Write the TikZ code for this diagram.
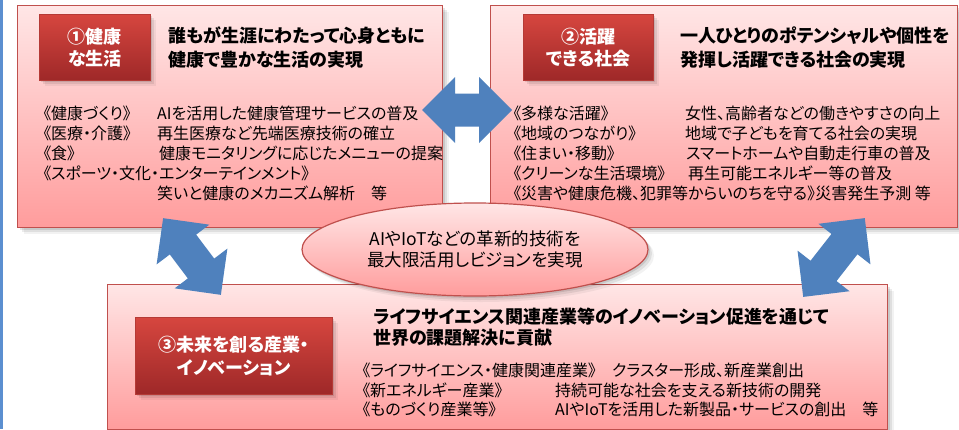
\documentclass[tikz,border=0pt]{standalone}
\usepackage{fontspec}
\setmainfont{Noto Sans CJK JP}[RawFeature=+palt]
\usetikzlibrary{shadows,shapes.geometric}
\definecolor{pinktop}{HTML}{FFE6E6}
\definecolor{pinkbot}{HTML}{FF9C9C}
\definecolor{boxline}{HTML}{C0504D}
\definecolor{labtop}{HTML}{D6463F}
\definecolor{labbot}{HTML}{9E2828}
\definecolor{labline}{HTML}{B53A36}
\definecolor{arrowblue}{HTML}{4F81BD}
\definecolor{edgeblue}{HTML}{5B8FD0}
\tikzset{
  softshadow/.style={
    general shadow={shadow xshift=2pt,shadow yshift=-2pt,fill=black,opacity=.10},
    general shadow={shadow xshift=4pt,shadow yshift=-4pt,fill=black,opacity=.08},
    general shadow={shadow xshift=6pt,shadow yshift=-6pt,fill=black,opacity=.05}},
  bigbox/.style={rectangle,draw=boxline,line width=1.2pt,top color=pinktop,bottom color=pinkbot,
    anchor=north west,inner sep=0pt,softshadow},
  labbox/.style={rectangle,draw=labline,line width=0.8pt,top color=labtop,bottom color=labbot,
    anchor=north west,inner sep=0pt,softshadow},
  labtext/.style={text=white,font=\bfseries\fontsize{18}{22.5}\selectfont,align=center,inner sep=0pt},
  headtext/.style={font=\bfseries\fontsize{18}{24}\selectfont,align=left,anchor=west,inner sep=0pt},
  bodytext/.style={font=\fontsize{16}{20}\selectfont,anchor=west,inner sep=0pt},
  blockarrow/.style={fill=arrowblue},
}
\newcommand\dblarrow[4]{%
  \begin{scope}[shift={(#1,#2)},rotate=#3]
    \fill[blockarrow] (-#4,0) -- (-#4+33,33) -- (-#4+33,16.5) -- (#4-33,16.5) -- (#4-33,33)
      -- (#4,0) -- (#4-33,-33) -- (#4-33,-16.5) -- (-#4+33,-16.5) -- (-#4+33,-33) -- cycle;
  \end{scope}}
\begin{document}
\begin{tikzpicture}[x=1pt,y=-1pt]
\useasboundingbox (0,0) rectangle (959,429);
\fill[white] (0,0) rectangle (959,429);
\fill[edgeblue] (0,0) rectangle (2.5,429);

% big boxes
\node[bigbox,minimum width=425pt,minimum height=222pt] (box1) at (17,5) {};
\node[bigbox,minimum width=467pt,minimum height=222pt] (box2) at (490,5) {};
\node[bigbox,minimum width=780pt,minimum height=145pt] (box3) at (107,284) {};

% label boxes
\node[labbox,minimum width=111pt,minimum height=66pt] (lab1) at (39,14) {};
\node[labtext] (lab1t) at (lab1.center) {①健康\\な生活};
\node[labbox,minimum width=130pt,minimum height=66pt] (lab2) at (523,14) {};
\node[labtext] (lab2t) at (lab2.center) {②活躍\\できる社会};
\node[labbox,minimum width=197pt,minimum height=77pt] (lab3) at (135,317) {};
\node[labtext] (lab3t) at (lab3.center) {③未来を創る産業・\\イノベーション};

% headings
\node[headtext] (h1) at (168,48) {誰もが生涯にわたって心身ともに\\健康で豊かな生活の実現};
\node[headtext] (h2) at (680,48) {一人ひとりのポテンシャルや個性を\\発揮し活躍できる社会の実現};
\node[headtext,font=\bfseries\fontsize{18}{21}\selectfont] (h3) at (373,327.5) {ライフサイエンス関連産業等のイノベーション促進を通じて\\世界の課題解決に貢献};

% box 1 body
\node[bodytext] (a1) at (43,113) {《健康づくり》};
\node[bodytext] (a1r) at (157,113) {AIを活用した健康管理サービスの普及};
\node[bodytext] (a2) at (43,133) {《医療・介護》};
\node[bodytext] (a2r) at (157,133) {再生医療など先端医療技術の確立};
\node[bodytext] (a3) at (43,153) {《食》};
\node[bodytext] (a3r) at (159,153) {健康モニタリングに応じたメニューの提案};
\node[bodytext] (a4) at (43,173) {《スポーツ・文化・エンターテインメント》};
\node[bodytext] (a5r) at (157,193) {笑いと健康のメカニズム解析　等};

% box 2 body
\node[bodytext] (c1) at (513,113) {《多様な活躍》};
\node[bodytext] (c1r) at (685,113) {女性、高齢者などの働きやすさの向上};
\node[bodytext] (c2) at (513,133) {《地域のつながり》};
\node[bodytext] (c2r) at (685,133) {地域で子どもを育てる社会の実現};
\node[bodytext] (c3) at (513,153) {《住まい・移動》};
\node[bodytext] (c3r) at (686,153) {スマートホームや自動走行車の普及};
\node[bodytext] (c4) at (513,173) {《クリーンな生活環境》};
\node[bodytext] (c4r) at (688,173) {再生可能エネルギー等の普及};
\node[bodytext] (c5) at (513,193) {《災害や健康危機、犯罪等からいのちを守る》災害発生予測 等};

% box 3 body
\node[bodytext] (d1) at (362,370) {《ライフサイエンス・健康関連産業》};
\node[bodytext] (d1r) at (612,370) {クラスター形成、新産業創出};
\node[bodytext] (d2) at (362,390) {《新エネルギー産業》};
\node[bodytext] (d2r) at (555,390) {持続可能な社会を支える新技術の開発};
\node[bodytext] (d3) at (362,409) {《ものづくり産業等》};
\node[bodytext] (d3r) at (555,409) {AIやIoTを活用した新製品・サービスの創出　等};

% centre ellipse
\node[ellipse,draw=boxline,line width=1.2pt,top color=pinktop,bottom color=pinkbot,
  minimum width=346pt,minimum height=93pt,inner sep=0pt,softshadow,
  font=\fontsize{17.5}{21}\selectfont,align=center] (vision) at (475,249.5)
  {AIやIoTなどの革新的技術を\\最大限活用しビジョンを実現};

% block arrows
\dblarrow{467}{110}{0}{45}
\dblarrow{192}{256.5}{-53}{48}
\dblarrow{834}{257.5}{52}{50}
\end{tikzpicture}
\end{document}
